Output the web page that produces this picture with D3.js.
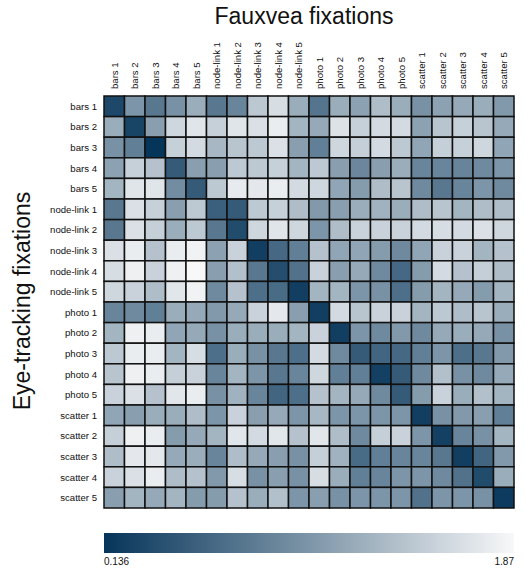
<!DOCTYPE html>
<html>
<head>
<meta charset="utf-8">
<script src="https://cdn.jsdelivr.net/npm/d3@7"></script>
<style>
  body { margin: 0; background: #fff; }
  text { font-family: "Liberation Sans", Arial, Helvetica, sans-serif; fill: #111; }
</style>
</head>
<body>
<svg id="chart" width="525" height="569"></svg>
<script>
// Stimulus names shared by both axes
const stimuli = [
  "bars 1", "bars 2", "bars 3", "bars 4", "bars 5",
  "node-link 1", "node-link 2", "node-link 3", "node-link 4", "node-link 5",
  "photo 1", "photo 2", "photo 3", "photo 4", "photo 5",
  "scatter 1", "scatter 2", "scatter 3", "scatter 4", "scatter 5"
];

// Distance between eye-tracking (rows) and Fauxvea (columns) fixation maps
const rowBars1     = [0.31,1.00,0.74,0.97,1.21,0.74,0.86,1.44,1.63,1.21,0.71,1.21,1.11,1.35,1.21,0.97,1.11,1.18,1.21,1.04];
const rowBars2     = [1.21,0.27,1.09,1.58,1.70,1.52,1.70,1.66,1.77,1.28,1.18,1.68,1.52,1.61,1.61,1.11,1.42,1.52,1.42,1.18];
const rowBars3     = [0.97,0.80,0.136,1.52,1.61,1.30,1.42,1.45,1.66,1.09,0.80,1.58,1.51,1.61,1.45,1.14,1.51,1.52,1.58,1.14];
const rowBars4     = [1.11,1.52,1.40,0.48,1.09,1.09,1.45,1.45,1.52,1.28,1.45,1.09,0.88,1.09,1.21,0.86,0.86,0.85,0.90,1.00];
const rowBars5     = [1.28,1.70,1.70,0.92,0.48,1.45,1.75,1.73,1.77,1.61,1.58,1.14,1.06,1.35,1.42,0.90,0.74,0.86,1.00,0.90];
const rowNodeLink1 = [0.74,1.66,1.52,1.09,1.45,0.52,0.48,1.45,1.52,1.35,1.04,1.09,1.21,1.25,1.21,1.35,1.42,1.28,1.35,1.35];
const rowNodeLink2 = [0.74,1.66,1.51,1.21,1.45,0.74,0.34,1.58,1.70,1.58,1.00,1.35,1.54,1.54,1.54,1.61,1.63,1.61,1.66,1.58];
const rowNodeLink3 = [1.66,1.77,1.40,1.77,1.82,1.11,1.54,0.22,0.60,0.80,1.40,1.14,1.14,1.06,0.90,1.14,1.54,1.54,1.28,1.40];
const rowNodeLink4 = [1.63,1.80,1.54,1.80,1.87,1.09,1.38,0.74,0.36,0.69,1.54,1.09,1.18,0.90,0.60,1.06,1.61,1.40,1.51,1.35];
const rowNodeLink5 = [1.58,1.54,1.35,1.71,1.82,0.90,1.40,0.66,0.62,0.22,1.28,1.28,1.00,0.97,0.66,1.06,1.28,1.18,1.06,1.28];
const rowPhoto1    = [0.86,0.90,0.80,1.21,1.18,1.04,1.18,1.54,1.73,1.09,0.22,1.61,1.42,1.54,1.54,1.28,1.45,1.35,1.42,1.21];
const rowPhoto2    = [1.28,1.80,1.77,1.14,1.18,0.97,1.21,1.21,1.21,1.28,1.54,0.22,1.00,0.90,1.04,0.90,1.18,1.21,1.18,0.97];
const rowPhoto3    = [1.45,1.77,1.77,1.28,1.63,0.66,1.21,0.97,0.74,0.66,1.61,0.90,0.48,0.57,0.60,0.80,1.00,0.66,0.74,1.04];
const rowPhoto4    = [1.42,1.80,1.77,1.51,1.54,0.86,1.28,1.00,0.74,0.86,1.58,0.80,0.80,0.24,0.48,0.90,1.38,0.97,0.90,1.18];
const rowPhoto5    = [1.54,1.66,1.40,1.71,1.77,0.97,1.25,0.86,0.57,0.66,1.40,1.28,1.18,0.90,0.48,1.06,1.54,1.21,1.38,1.28];
const rowScatter1  = [1.14,1.09,1.21,1.21,1.35,1.00,1.54,1.09,1.18,1.00,1.30,1.00,1.00,1.00,1.00,0.22,0.97,1.04,1.09,0.80];
const rowScatter2  = [1.51,1.80,1.77,1.06,1.18,1.28,1.71,1.61,1.71,1.40,1.71,1.35,0.90,1.51,1.54,1.00,0.24,0.86,0.97,1.28];
const rowScatter3  = [1.35,1.73,1.73,1.18,1.21,0.86,1.35,1.18,1.09,0.97,1.51,1.25,0.62,0.80,0.86,0.86,0.74,0.22,0.57,1.04];
const rowScatter4  = [1.54,1.66,1.77,1.35,1.40,1.04,1.63,0.97,1.09,0.97,1.63,1.21,0.80,0.86,1.00,1.00,0.90,0.69,0.34,1.21];
const rowScatter5  = [1.09,1.28,1.18,1.28,1.06,1.06,1.40,1.21,1.38,1.00,1.09,0.97,1.00,1.00,1.00,0.69,1.00,1.00,0.97,0.19];

const matrix = [
  rowBars1, rowBars2, rowBars3, rowBars4, rowBars5,
  rowNodeLink1, rowNodeLink2, rowNodeLink3, rowNodeLink4, rowNodeLink5,
  rowPhoto1, rowPhoto2, rowPhoto3, rowPhoto4, rowPhoto5,
  rowScatter1, rowScatter2, rowScatter3, rowScatter4, rowScatter5
];

// Colour bar end labels
const legendTicks = ["0.136", "1.87"];
const vMin = 0.136, vMax = 1.87;

const svg = d3.select("#chart");

const x = d3.scaleBand().domain(stimuli).range([104, 514]).padding(0);
const y = d3.scaleBand().domain(stimuli).range([96, 508]).padding(0);
const color = d3.scaleLinear()
  .domain([vMin, (vMin + vMax) / 2, vMax])
  .range(["#06355a", "#7d95a8", "#f8f8f9"])
  .interpolate(d3.interpolateRgb);

const cells = [];
matrix.forEach((row, i) => row.forEach((v, j) => cells.push({ r: stimuli[i], c: stimuli[j], v })));

svg.append("g").selectAll("rect")
  .data(cells)
  .join("rect")
  .attr("x", d => x(d.c))
  .attr("y", d => y(d.r))
  .attr("width", x.bandwidth())
  .attr("height", y.bandwidth())
  .attr("fill", d => color(d.v))
  .attr("stroke", "#111")
  .attr("stroke-width", 1.5);

// Column labels (rotated)
svg.append("g").selectAll("text")
  .data(stimuli)
  .join("text")
  .attr("transform", d => `translate(${x(d) + x.bandwidth() / 2 + 3.5},89) rotate(-90)`)
  .attr("text-anchor", "start")
  .attr("font-size", 9.6)
  .text(d => d);

// Row labels
svg.append("g").selectAll("text")
  .data(stimuli)
  .join("text")
  .attr("x", 97)
  .attr("y", d => y(d) + y.bandwidth() / 2 + 3.5)
  .attr("text-anchor", "end")
  .attr("font-size", 9.6)
  .text(d => d);

// Titles
svg.append("text")
  .attr("x", 304).attr("y", 24)
  .attr("text-anchor", "middle")
  .attr("font-size", 23)
  .text("Fauxvea fixations");

svg.append("text")
  .attr("transform", "translate(30,301) rotate(-90)")
  .attr("text-anchor", "middle")
  .attr("font-size", 23)
  .text("Eye-tracking fixations");

// Colour bar
const grad = svg.append("defs").append("linearGradient")
  .attr("id", "cbar").attr("x1", "0%").attr("x2", "100%");
d3.range(0, 1.0001, 0.1).forEach(t => {
  grad.append("stop")
    .attr("offset", `${t * 100}%`)
    .attr("stop-color", color(vMin + t * (vMax - vMin)));
});

const lx = d3.scaleLinear().domain([vMin, vMax]).range([104, 514]);
svg.append("rect")
  .attr("x", lx(vMin)).attr("y", 533)
  .attr("width", lx(vMax) - lx(vMin)).attr("height", 20)
  .attr("fill", "url(#cbar)");

svg.append("text")
  .attr("x", lx(vMin)).attr("y", 565)
  .attr("font-size", 10)
  .attr("text-anchor", "start")
  .text(legendTicks[0]);
svg.append("text")
  .attr("x", lx(vMax)).attr("y", 565)
  .attr("font-size", 10)
  .attr("text-anchor", "end")
  .text(legendTicks[1]);
</script>
</body>
</html>
